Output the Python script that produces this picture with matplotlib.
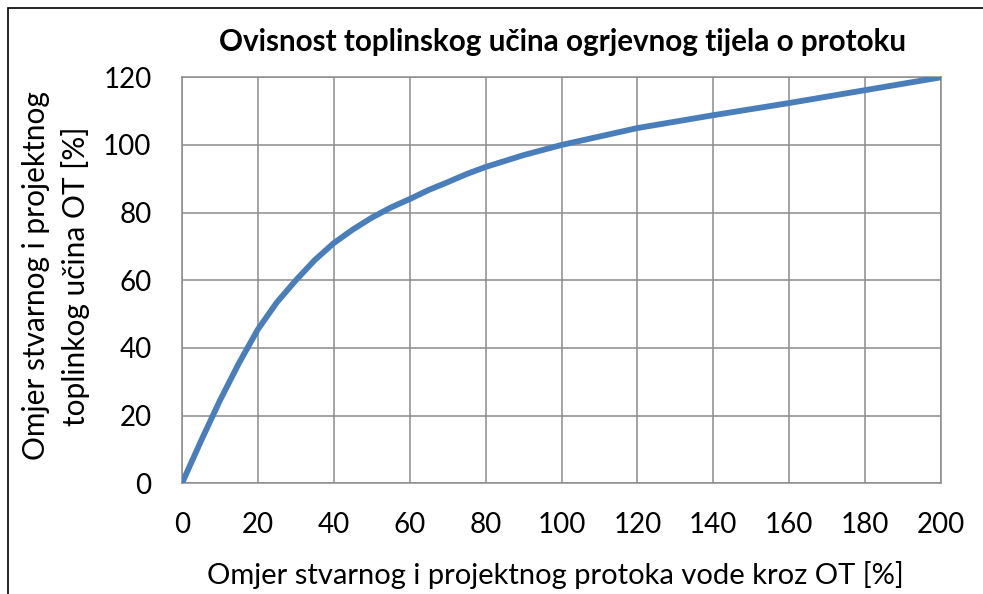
import matplotlib.pyplot as plt
from matplotlib.patches import Rectangle

# omjer protoka [%] i omjer toplinskog ucina [%]
protok = [0, 5, 10, 15, 20, 25, 30, 35, 40, 45, 50, 55, 60, 65, 70, 75, 80, 90, 100,
          120, 140, 160, 180, 200]
ucin = [0, 12.5, 24.5, 35.5, 45.5, 53.5, 60, 66, 71, 75, 78.5, 81.5, 84, 86.7, 89, 91.4,
        93.5, 97, 100, 105, 108.8, 112.4, 116.2, 120]

x_ticks = list(range(0, 201, 20))
y_ticks = list(range(0, 121, 20))

naslov = "Ovisnost toplinskog učina ogrjevnog tijela o protoku"
x_oznaka = "Omjer stvarnog i projektnog protoka vode kroz OT [%]"
y_oznaka = "Omjer stvarnog i projektnog\ntoplinkog učina OT [%]"

plt.rcParams['font.family'] = ['Lato', 'DejaVu Sans']

fig = plt.figure(figsize=(9.83, 5.94), dpi=100)
ax = fig.add_axes([182 / 983, 1 - 483.3 / 594, (941 - 182) / 983, (483.3 - 77.3) / 594])

ax.plot(protok, ucin, color='#4A7EBB', lw=4.2, solid_capstyle='butt',
        solid_joinstyle='round', zorder=3)

ax.set_xlim(0, 200)
ax.set_ylim(0, 120)
ax.set_xticks(x_ticks)
ax.set_yticks(y_ticks)
ax.tick_params(length=0, labelsize=20, colors='black')
ax.tick_params(axis='x', pad=21)
ax.tick_params(axis='y', pad=22)
ax.grid(True, color='#8c8c8c', lw=1.1)
for s in ax.spines.values():
    s.set_color('#8c8c8c')
    s.set_linewidth(1.1)

fig.text(562.5 / 983, 1 - 42 / 594, naslov, fontsize=21.3, fontweight='bold',
         ha='center', va='center')
fig.text(555 / 983, 1 - 575 / 594, x_oznaka, fontsize=21, ha='center', va='center')
fig.text(56 / 983, 1 - 276 / 594, y_oznaka, fontsize=21.5, ha='center', va='center',
         rotation=90, multialignment='center', linespacing=1.45)

# okvir grafikona
fig.patches.append(Rectangle((8 / 983, -0.1), 1.2, 1 - 8 / 594 + 0.1,
                             transform=fig.transFigure, fill=False,
                             edgecolor='black', lw=1.2))

fig.savefig('out.png', dpi=100)
